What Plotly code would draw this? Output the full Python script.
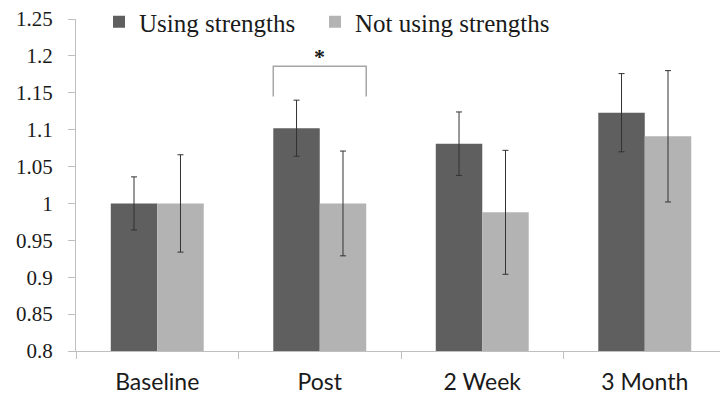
import plotly.graph_objects as go

categories = ["Baseline", "Post", "2 Week", "3 Month"]
using = [1.0, 1.102, 1.081, 1.123]
using_err = [0.036, 0.038, 0.043, 0.053]
not_using = [1.0, 1.0, 0.988, 1.091]
not_using_err = [0.066, 0.071, 0.084, 0.089]
y_ticks = [0.8, 0.85, 0.9, 0.95, 1.0, 1.05, 1.1, 1.15, 1.2, 1.25]
y_tick_text = ["0.8", "0.85", "0.9", "0.95", "1", "1.05", "1.1", "1.15", "1.2", "1.25"]
sig_category = "Post"
sig_bracket_top = 1.186
sig_bracket_leg = 1.145

DARK = "#5f5f5f"
LIGHT = "#b3b3b3"
ERR = "#333333"
AXIS = "#bfbfbf"

bargap = 0.428
half = (1 - bargap) / 2

fig = go.Figure()
fig.add_trace(go.Bar(
    name="Using strengths", x=categories, y=using, legend="legend",
    marker=dict(color=DARK, line=dict(width=0)),
    error_y=dict(type="data", array=using_err, color=ERR, thickness=1, width=3),
))
fig.add_trace(go.Bar(
    name="Not using strengths", x=categories, y=not_using, legend="legend2",
    marker=dict(color=LIGHT, line=dict(width=0)),
    error_y=dict(type="data", array=not_using_err, color=ERR, thickness=1, width=3),
))

ci = categories.index(sig_category)
fig.add_shape(type="path", xref="x", yref="y",
              path=f"M {ci-half},{sig_bracket_leg} L {ci-half},{sig_bracket_top} "
                   f"L {ci+half},{sig_bracket_top} L {ci+half},{sig_bracket_leg}",
              line=dict(color="#a6a6a6", width=1.5))
fig.add_annotation(x=ci, y=sig_bracket_top, xref="x", yref="y", text="<b>*</b>",
                   showarrow=False, yanchor="bottom", yshift=-5,
                   font=dict(family="Liberation Serif", size=22, color="#1a1a1a"))

legend_style = dict(orientation="h", xref="paper", xanchor="left",
                    y=(351 - 22) / 332, yanchor="middle",
                    font=dict(family="Liberation Serif", size=25, color="#1a1a1a"),
                    bgcolor="rgba(0,0,0,0)")

fig.update_layout(
    width=720, height=394,
    margin=dict(l=76, r=0, t=19, b=43, autoexpand=False),
    paper_bgcolor="white", plot_bgcolor="white",
    barmode="group", bargap=bargap, bargroupgap=0,
    showlegend=True,
    legend=dict(x=23/644, **legend_style),
    legend2=dict(x=239/644, **legend_style),
    xaxis=dict(
        type="category", range=[-0.5, 3.463], automargin=False,
        showline=True, linecolor=AXIS, linewidth=1,
        ticks="outside", tickson="boundaries", ticklen=7, tickcolor=AXIS,
        ticklabelstandoff=10,
        showgrid=False, zeroline=False,
        tickfont=dict(family="Lato", size=23, color="#1a1a1a"),
    ),
    yaxis=dict(
        range=[0.8, 1.25], tickvals=y_ticks, ticktext=y_tick_text, automargin=False,
        showline=True, linecolor=AXIS, linewidth=1,
        ticks="outside", ticklen=7, tickcolor=AXIS,
        ticklabelstandoff=11,
        showgrid=False, zeroline=False,
        tickfont=dict(family="Liberation Serif", size=21, color="#1a1a1a"),
    ),
)

fig.write_html("out.html", config={"displayModeBar": False},
               post_script="document.body.style.margin='0';document.body.style.padding='0';")
